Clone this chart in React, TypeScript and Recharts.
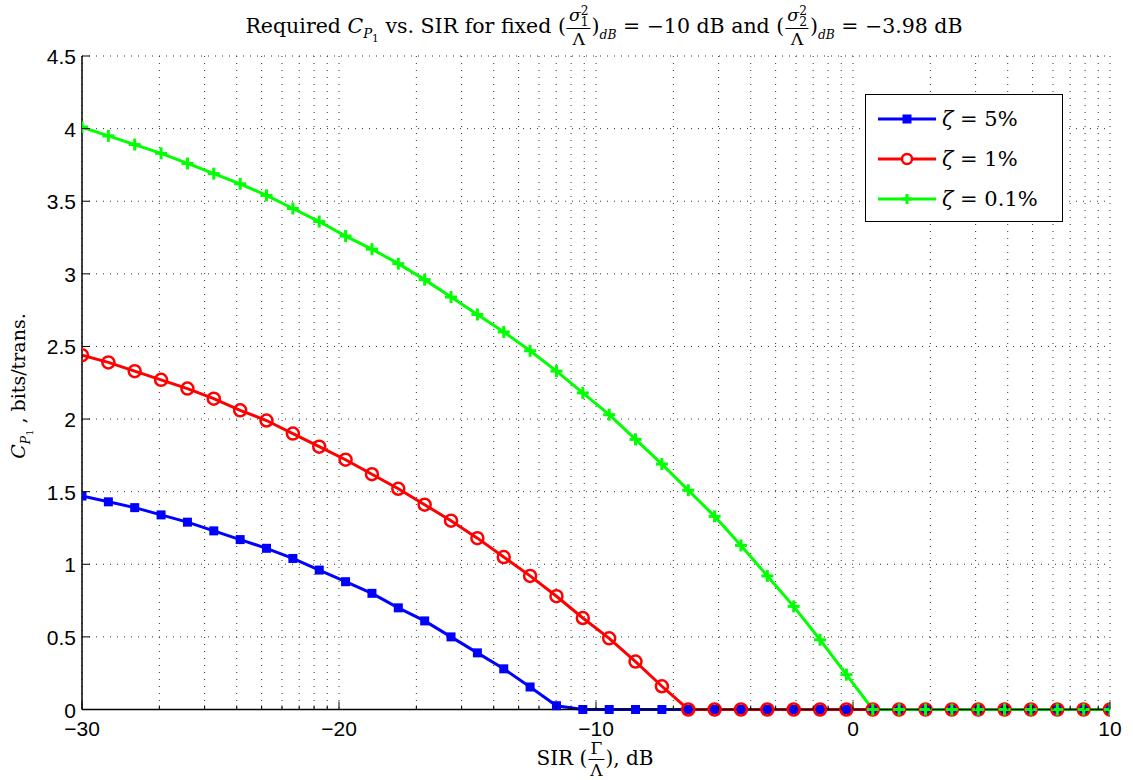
import React from 'react';
import { LineChart, Line, XAxis, YAxis, CartesianGrid, Legend } from 'recharts';

// SIR values (dB), 40 evenly spaced points from -30 to 10
const sirDb = [
  -30, -28.974, -27.949, -26.923, -25.897, -24.872, -23.846, -22.821, -21.795, -20.769,
  -19.744, -18.718, -17.692, -16.667, -15.641, -14.615, -13.59, -12.564, -11.538, -10.513,
  -9.487, -8.462, -7.436, -6.41, -5.385, -4.359, -3.333, -2.308, -1.282, -0.256,
  0.769, 1.795, 2.821, 3.846, 4.872, 5.897, 6.923, 7.949, 8.974, 10,
];

// zeta = 5%
const zeta5 = [
  1.47, 1.43, 1.39, 1.34, 1.29, 1.23, 1.17, 1.11, 1.04, 0.96,
  0.88, 0.8, 0.7, 0.61, 0.5, 0.39, 0.28, 0.155, 0.026, 0,
  0, 0, 0, 0, 0, 0, 0, 0, 0, 0,
  0, 0, 0, 0, 0, 0, 0, 0, 0, 0,
];

// zeta = 1%
const zeta1 = [
  2.44, 2.39, 2.33, 2.27, 2.21, 2.14, 2.06, 1.99, 1.9, 1.81,
  1.72, 1.62, 1.52, 1.41, 1.3, 1.18, 1.05, 0.92, 0.78, 0.63,
  0.49, 0.33, 0.16, 0, 0, 0, 0, 0, 0, 0,
  0, 0, 0, 0, 0, 0, 0, 0, 0, 0,
];

// zeta = 0.1%
const zeta01 = [
  4.01, 3.95, 3.89, 3.83, 3.76, 3.69, 3.62, 3.54, 3.45, 3.36,
  3.26, 3.17, 3.07, 2.96, 2.84, 2.72, 2.6, 2.47, 2.33, 2.18,
  2.03, 1.86, 1.69, 1.51, 1.33, 1.13, 0.92, 0.71, 0.48, 0.24,
  0, 0, 0, 0, 0, 0, 0, 0, 0, 0,
];

const seriesKeys = ['z5', 'z1', 'z01'];
const seriesNames = ['ζ = 5%', 'ζ = 1%', 'ζ = 0.1%'];
const seriesColors = ['#0000ff', '#ff0000', '#00ff00'];

const xMajorTicks = [-30, -20, -10, 0, 10];
const decadeStarts = [-30, -20, -10, 0];
const decadeOffsets = [3.0103, 4.7712, 6.0206, 6.9897, 7.7815, 8.451, 9.0309, 9.5424];
const xMinorTicks = decadeStarts.flatMap((d) => decadeOffsets.map((o) => d + o));
const xAllTicks = [...xMajorTicks, ...xMinorTicks].sort((a, b) => a - b);
const yTicks = [0, 0.5, 1, 1.5, 2, 2.5, 3, 3.5, 4, 4.5];

const data = sirDb.map((x, i) => ({ x, z5: zeta5[i], z1: zeta1[i], z01: zeta01[i] }));

const SANS = '"Liberation Sans", Arial, Helvetica, sans-serif';
const SERIF = '"DejaVu Serif", "Liberation Serif", serif';

const isMajor = (v: number) => xMajorTicks.some((m) => Math.abs(m - v) < 1e-6);
const fmt = (v: number) => (v < 0 ? '\u2212' + Math.abs(v) : String(v));

const BottomTick = (p: any) => {
  const v = p.payload.value;
  const major = isMajor(v);
  const len = major ? 8 : 4;
  return (
    <g>
      <line x1={p.x} x2={p.x} y1={p.y} y2={p.y - len} stroke="#000" strokeWidth={1} />
      {major && (
        <text x={p.x} y={p.y + 26} textAnchor="middle" fontFamily={SANS} fontSize={21} fill="#000">
          {fmt(v)}
        </text>
      )}
    </g>
  );
};

const TopTick = (p: any) => {
  const v = p.payload.value;
  const len = isMajor(v) ? 8 : 4;
  return <line x1={p.x} x2={p.x} y1={p.y} y2={p.y + len} stroke="#000" strokeWidth={1} />;
};

const LeftTick = (p: any) => {
  const v = p.payload.value;
  return (
    <g>
      <line x1={p.x} x2={p.x + 8} y1={p.y} y2={p.y} stroke="#000" strokeWidth={1} />
      <text x={p.x - 6} y={p.y + 8} textAnchor="end" fontFamily={SANS} fontSize={21} fill="#000">
        {String(v)}
      </text>
    </g>
  );
};

const RightTick = (p: any) => (
  <line x1={p.x} x2={p.x - 8} y1={p.y} y2={p.y} stroke="#000" strokeWidth={1} />
);

const SquareDot = (p: any) =>
  p.cx == null ? <g key={p.index} /> : (
    <rect key={p.index} x={p.cx - 4.5} y={p.cy - 4.5} width={9} height={9} fill="#0000ff" />
  );
const CircleDot = (p: any) =>
  p.cx == null ? <g key={p.index} /> : (
    <circle key={p.index} cx={p.cx} cy={p.cy} r={6} fill="none" stroke="#ff0000" strokeWidth={2.5} />
  );
const PlusDot = (p: any) =>
  p.cx == null ? <g key={p.index} /> : (
    <g key={p.index}>
      <line x1={p.cx - 6} x2={p.cx + 6} y1={p.cy} y2={p.cy} stroke="#00ff00" strokeWidth={3} />
      <line x1={p.cx} x2={p.cx} y1={p.cy - 6} y2={p.cy + 6} stroke="#00ff00" strokeWidth={3} />
    </g>
  );

const LegendMarker = ({ k, color }: { k: string; color: string }) => (
  <svg width={60} height={20} style={{ display: 'block' }}>
    <line x1={1} x2={59} y1={10} y2={10} stroke={color} strokeWidth={3} />
    {k === 'z5' && <rect x={25.5} y={5.5} width={9} height={9} fill={color} />}
    {k === 'z1' && <circle cx={30} cy={10} r={5} fill="#fff" stroke={color} strokeWidth={2.5} />}
    {k === 'z01' && (
      <g>
        <line x1={25} x2={35} y1={10} y2={10} stroke={color} strokeWidth={3} />
        <line x1={30} x2={30} y1={5} y2={15} stroke={color} strokeWidth={3} />
      </g>
    )}
  </svg>
);

const LegendBox = (props: any) => {
  const payload = [...(props.payload || [])].sort(
    (a: any, b: any) => seriesKeys.indexOf(a.dataKey) - seriesKeys.indexOf(b.dataKey),
  );
  return (
    <div
      style={{
        width: 196,
        height: 126,
        border: '1px solid #000',
        background: '#fff',
        position: 'relative',
      }}
    >
      {payload.map((e: any, i: number) => (
        <div
          key={e.dataKey}
          style={{ position: 'absolute', left: 11, top: 14 + i * 40, display: 'flex', alignItems: 'center', height: 20 }}
        >
          <LegendMarker k={e.dataKey} color={e.color} />
          <span style={{ marginLeft: 5, fontFamily: SERIF, fontSize: 21, whiteSpace: 'nowrap', color: '#000' }}>
            <i>ζ</i> = {String(e.value).replace('ζ = ', '')}
          </span>
        </div>
      ))}
    </div>
  );
};

const Frac = ({ num, den, size = '0.85em' }: { num: React.ReactNode; den: React.ReactNode; size?: string }) => (
  <span
    style={{
      display: 'inline-flex',
      flexDirection: 'column',
      alignItems: 'center',
      verticalAlign: 'middle',
      fontSize: size,
      lineHeight: 1.1,
      margin: '0 1px',
    }}
  >
    <span style={{ padding: '0 2px 1px' }}>{num}</span>
    <span style={{ borderTop: '1px solid #000', padding: '1px 2px 0', alignSelf: 'stretch', textAlign: 'center' }}>{den}</span>
  </span>
);

const Sigma = ({ sub }: { sub: string }) => (
  <span>
    <i>σ</i>
    <span
      style={{
        display: 'inline-flex',
        flexDirection: 'column',
        fontSize: '0.7em',
        lineHeight: 0.85,
        verticalAlign: 'middle',
      }}
    >
      <span>2</span>
      <span>{sub}</span>
    </span>
  </span>
);

const dB = <i style={{ fontSize: '0.6em', verticalAlign: '-0.45em' }}>dB</i>;

const CP1 = () => (
  <span>
    <i>C</i>
    <sub style={{ fontSize: '0.65em' }}>
      <i>P</i>
      <sub style={{ fontSize: '0.8em' }}>1</sub>
    </sub>
  </span>
);

export default function App() {
  return (
    <div style={{ position: 'absolute', left: 0, top: 0, width: 1133, height: 780, background: '#fff' }}>
      <LineChart width={1133} height={780} data={data} margin={{ top: 56, right: 23, bottom: 40, left: 0 }}>
        <CartesianGrid stroke="#333" strokeDasharray="1 6" strokeWidth={1} />
        <XAxis
          dataKey="x"
          type="number"
          domain={[-30, 10]}
          ticks={xAllTicks}
          interval={0}
          height={30.5}
          tickSize={0}
          tickMargin={0}
          tick={<BottomTick />}
          axisLine={{ stroke: '#000', strokeWidth: 1.5 }}
          allowDataOverflow
        />
        <XAxis
          xAxisId="top"
          orientation="top"
          dataKey="x"
          type="number"
          domain={[-30, 10]}
          ticks={xAllTicks}
          interval={0}
          height={0}
          tickSize={0}
          tickMargin={0}
          tick={<TopTick />}
          axisLine={{ stroke: '#000', strokeWidth: 1.5 }}
        />
        <YAxis
          type="number"
          domain={[0, 4.5]}
          ticks={yTicks}
          interval={0}
          width={82}
          tickSize={0}
          tickMargin={0}
          tick={<LeftTick />}
          axisLine={{ stroke: '#000', strokeWidth: 1.5 }}
        />
        <YAxis
          yAxisId="right"
          orientation="right"
          type="number"
          domain={[0, 4.5]}
          ticks={yTicks}
          interval={0}
          width={0}
          tickSize={0}
          tickMargin={0}
          tick={<RightTick />}
          axisLine={{ stroke: '#000', strokeWidth: 1.5 }}
        />
        <Legend
          layout="horizontal"
          verticalAlign="middle"
          align="center"
          content={<LegendBox />}
          wrapperStyle={{ position: 'absolute', left: 865, top: 94, width: 198, height: 128 }}
        />
        <Line
          dataKey="z5"
          name={seriesNames[0]}
          stroke={seriesColors[0]}
          strokeWidth={3}
          dot={SquareDot}
          activeDot={false}
          isAnimationActive={false}
        />
        <Line
          dataKey="z1"
          name={seriesNames[1]}
          stroke={seriesColors[1]}
          strokeWidth={3}
          dot={CircleDot}
          activeDot={false}
          isAnimationActive={false}
        />
        <Line
          dataKey="z01"
          name={seriesNames[2]}
          stroke={seriesColors[2]}
          strokeWidth={3}
          dot={PlusDot}
          activeDot={false}
          isAnimationActive={false}
        />
      </LineChart>

      {/* Title */}
      <div
        style={{
          position: 'absolute',
          left: 604,
          top: 6,
          transform: 'translateX(-50%)',
          whiteSpace: 'nowrap',
          fontFamily: SERIF,
          fontSize: 20.5,
          color: '#000',
        }}
      >
        Required <CP1 /> vs. SIR for fixed (<Frac num={<Sigma sub="1" />} den="Λ" />){dB} = −10 dB and (
        <Frac num={<Sigma sub="2" />} den="Λ" />){dB} = −3.98 dB
      </div>

      {/* Y label */}
      <div
        style={{
          position: 'absolute',
          left: 21,
          top: 386,
          transform: 'translate(-50%, -50%) rotate(-90deg)',
          whiteSpace: 'nowrap',
          fontFamily: SERIF,
          fontSize: 19,
          color: '#000',
        }}
      >
        <CP1 /> , bits/trans.
      </div>

      {/* X label */}
      <div
        style={{
          position: 'absolute',
          left: 595,
          top: 739,
          transform: 'translateX(-50%)',
          whiteSpace: 'nowrap',
          fontFamily: SERIF,
          fontSize: 20,
          color: '#000',
        }}
      >
        SIR (<Frac num="Γ" den="Λ" />), dB
      </div>
    </div>
  );
}
